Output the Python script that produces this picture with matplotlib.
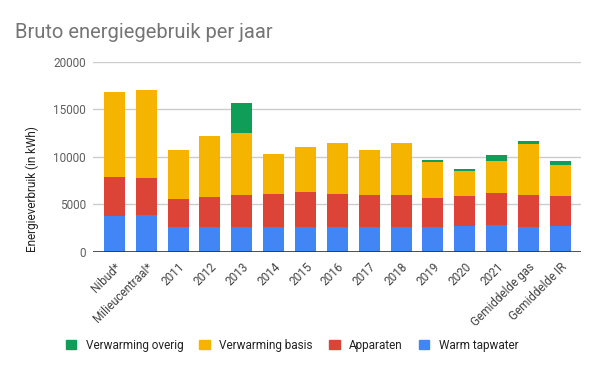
import numpy as np
import matplotlib.pyplot as plt
from matplotlib.patches import Patch

plt.rcParams['font.family'] = ['Roboto', 'DejaVu Sans']

labels = ['Nibud*', 'Milieucentraal*', '2011', '2012', '2013', '2014', '2015',
          '2016', '2017', '2018', '2019', '2020', '2021', 'Gemiddelde gas',
          'Gemiddelde IR']
tapwater = [3830, 3900, 2630, 2630, 2630, 2630, 2630, 2630, 2630, 2630,
            2630, 2770, 2840, 2630, 2770]
apparaten = [4070, 3890, 2950, 3160, 3370, 3470, 3690, 3470, 3370, 3370,
             3050, 3130, 3370, 3370, 3130]
verw_basis = [8940, 9260, 5160, 6420, 6530, 4220, 4730, 5380, 4740, 5480,
              3790, 2630, 3370, 5370, 3260]
verw_overig = [0, 0, 0, 0, 3160, 0, 0, 0, 0, 0, 210, 210, 630, 310, 420]

c_tap = '#4285F4'
c_app = '#DB4437'
c_basis = '#F4B400'
c_overig = '#0F9D58'

fig = plt.figure(figsize=(6, 3.71), dpi=100)
ax = fig.add_axes([0.155, 0.3208, 0.813, 0.5121])

x = np.arange(len(labels))
w = 0.66
tap = np.array(tapwater)
app = np.array(apparaten)
bas = np.array(verw_basis)
ovr = np.array(verw_overig)
ax.bar(x, tap, w, color=c_tap, zorder=2)
ax.bar(x, app, w, bottom=tap, color=c_app, zorder=2)
ax.bar(x, bas, w, bottom=tap + app, color=c_basis, zorder=2)
ax.bar(x, ovr, w, bottom=tap + app + bas, color=c_overig, zorder=2)

ax.set_xlim(-0.67, len(labels) - 1 + 0.64)
ax.set_ylim(0, 20000)
ax.set_yticks([0, 5000, 10000, 15000, 20000])
ax.set_yticklabels(['0', '5000', '10000', '15000', '20000'])
ax.yaxis.grid(True, color='#cccccc', linewidth=1, zorder=0)
ax.axhline(0, color='#333333', linewidth=1.2, zorder=3)
for s in ax.spines.values():
    s.set_visible(False)
ax.tick_params(axis='both', length=0, labelsize=8.5, colors='#444444')
ax.tick_params(axis='y', pad=5, labelcolor='#5f5f5f')
ax.set_xticks(x)
ax.set_xticklabels(labels, rotation=45, ha='right', rotation_mode='anchor',
                   color='#444444')
ax.tick_params(axis='x', pad=6)

ax.set_ylabel('Energieverbruik (in kWh)', fontsize=8.5, color='#222222')
ax.yaxis.set_label_coords(-0.11, 0.33)

fig.text(15 / 600, 1 - 38 / 371, 'Bruto energiegebruik per jaar',
         fontsize=14.5, color='#757575')

handles = [Patch(color=c_overig), Patch(color=c_basis), Patch(color=c_app),
           Patch(color=c_tap)]
names = ['Verwarming overig', 'Verwarming basis', 'Apparaten', 'Warm tapwater']
leg = fig.legend(handles, names, ncol=4, loc='center', frameon=False,
                 bbox_to_anchor=(292 / 600, 1 - 345 / 371), fontsize=8.5,
                 handlelength=0.9, handleheight=0.9, handletextpad=0.8,
                 columnspacing=1.35)
for t in leg.get_texts():
    t.set_color('#222222')

fig.savefig('out.png', dpi=100)
